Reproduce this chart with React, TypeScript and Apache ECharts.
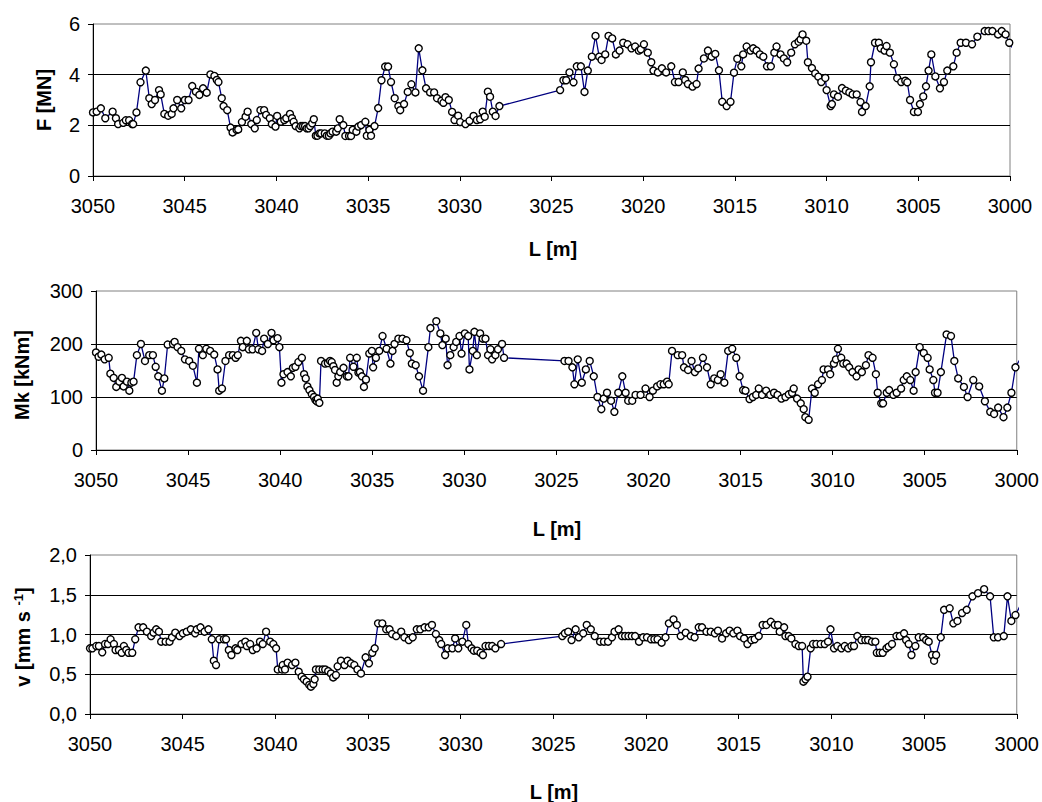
import React, { useEffect, useRef } from "react";
import * as echarts from "echarts";

const forceMN: [number, number][] = [
  [3050.0, 2.51], [3049.8, 2.54], [3049.57, 2.67], [3049.33, 2.28], [3048.93, 2.54], [3048.75, 2.28], [3048.63, 2.05], [3048.35, 2.1], [3048.21, 2.2], [3048.03, 2.2],
  [3047.87, 2.05], [3047.81, 2.05], [3047.63, 2.51], [3047.41, 3.7], [3047.12, 4.16], [3046.93, 3.07], [3046.8, 2.84], [3046.62, 3.0], [3046.4, 3.39], [3046.31, 3.22],
  [3046.11, 2.45], [3045.9, 2.38], [3045.71, 2.45], [3045.61, 2.67], [3045.41, 3.0], [3045.19, 2.67], [3044.99, 3.0], [3044.79, 3.0], [3044.59, 3.55], [3044.39, 3.33],
  [3044.2, 3.2], [3044.0, 3.46], [3043.8, 3.29], [3043.6, 4.01], [3043.38, 3.95], [3043.25, 3.79], [3043.16, 3.71], [3042.98, 3.07], [3042.88, 2.76], [3042.68, 2.6],
  [3042.5, 1.91], [3042.39, 1.72], [3042.17, 1.82], [3042.08, 1.84], [3041.88, 2.13], [3041.68, 2.34], [3041.57, 2.54], [3041.37, 2.05], [3041.18, 1.88], [3041.07, 2.21],
  [3040.87, 2.6], [3040.67, 2.6], [3040.56, 2.41], [3040.36, 2.28], [3040.25, 2.05], [3040.05, 1.95], [3039.96, 2.37], [3039.76, 2.14], [3039.57, 2.21], [3039.46, 2.28],
  [3039.26, 2.45], [3039.15, 2.28], [3039.06, 2.14], [3038.95, 1.97], [3038.75, 1.88], [3038.66, 1.97], [3038.55, 1.97], [3038.44, 1.97], [3038.35, 1.88], [3038.25, 1.88],
  [3038.16, 1.97], [3038.05, 2.08], [3037.96, 2.24], [3037.85, 1.59], [3037.76, 1.59], [3037.65, 1.68], [3037.56, 1.68], [3037.36, 1.68], [3037.25, 1.59], [3037.14, 1.59],
  [3037.05, 1.68], [3036.94, 1.75], [3036.74, 1.75], [3036.65, 1.88], [3036.55, 2.24], [3036.35, 2.01], [3036.24, 1.58], [3036.04, 1.58], [3035.93, 1.58], [3035.84, 1.82],
  [3035.64, 1.75], [3035.53, 1.95],
  [3035.38, 2.01], [3035.15, 2.14], [3035.07, 1.59], [3034.93, 1.82], [3034.84, 1.59], [3034.65, 1.97], [3034.45, 2.68], [3034.27, 3.78], [3034.07, 4.32], [3033.91, 4.32],
  [3033.75, 3.71], [3033.55, 3.07], [3033.35, 2.76], [3033.25, 2.6], [3033.04, 2.84], [3032.84, 3.32], [3032.64, 3.62], [3032.42, 3.3], [3032.24, 5.04], [3032.04, 4.17],
  [3031.84, 3.46], [3031.62, 3.3], [3031.4, 3.3], [3031.24, 3.07], [3031.0, 2.97], [3030.89, 2.89], [3030.78, 3.11], [3030.6, 3.0], [3030.42, 2.53], [3030.29, 2.21],
  [3030.09, 2.38], [3029.98, 2.13], [3029.69, 2.05], [3029.47, 2.18], [3029.25, 2.37], [3029.07, 2.21], [3028.89, 2.24], [3028.75, 2.54], [3028.64, 2.34], [3028.47, 3.33],
  [3028.35, 3.13], [3028.2, 2.54], [3028.05, 2.37], [3027.84, 2.76],
  [3024.53, 3.39], [3024.35, 3.78], [3024.2, 3.78], [3024.02, 4.09], [3023.8, 3.7], [3023.62, 4.33], [3023.4, 4.33], [3023.2, 3.32], [3023.02, 4.16], [3022.8, 4.71],
  [3022.6, 5.53], [3022.4, 4.71], [3022.27, 4.58], [3022.07, 4.8], [3021.89, 5.53], [3021.69, 5.43], [3021.49, 4.8], [3021.29, 4.95], [3021.09, 5.26], [3020.85, 5.2],
  [3020.64, 5.04], [3020.44, 5.11], [3020.24, 4.95], [3020.13, 5.0], [3019.96, 5.2], [3019.75, 4.87], [3019.56, 4.49], [3019.44, 4.16], [3019.2, 4.09], [3018.98, 4.25],
  [3018.75, 4.09], [3018.47, 4.33], [3018.27, 3.71], [3018.07, 3.71], [3017.84, 4.09], [3017.71, 3.79], [3017.56, 3.63], [3017.31, 3.53], [3017.09, 3.63], [3016.98, 4.24],
  [3016.69, 4.64], [3016.47, 4.95], [3016.27, 4.71], [3016.07, 4.82], [3015.87, 4.17], [3015.69, 2.93], [3015.45, 2.76], [3015.24, 2.93], [3015.05, 4.08], [3014.87, 4.63],
  [3014.65, 4.33], [3014.55, 4.8], [3014.36, 5.11], [3014.15, 4.95], [3014.0, 5.04], [3013.82, 4.95], [3013.64, 4.8], [3013.45, 4.71], [3013.25, 4.33], [3013.04, 4.33],
  [3012.85, 4.87], [3012.73, 5.11], [3012.51, 4.8], [3012.33, 4.64], [3012.15, 4.49], [3011.93, 4.87], [3011.73, 5.2], [3011.53, 5.3], [3011.42, 5.39], [3011.31, 5.59],
  [3011.11, 5.34], [3011.02, 4.49], [3010.8, 4.26], [3010.62, 4.05], [3010.45, 3.92], [3010.29, 3.71], [3010.07, 3.87], [3010.0, 3.39], [3009.78, 2.76], [3009.71, 2.84],
  [3009.6, 3.22], [3009.38, 3.13], [3009.16, 3.47], [3008.95, 3.37], [3008.76, 3.3], [3008.58, 3.22], [3008.36, 3.22], [3008.15, 2.92], [3008.07, 2.53], [3007.87, 2.76],
  [3007.65, 3.54], [3007.58, 4.49], [3007.36, 5.26], [3007.15, 5.26], [3007.05, 5.04], [3006.84, 4.95], [3006.73, 5.13], [3006.55, 4.87], [3006.33, 4.41], [3006.15, 3.86],
  [3005.93, 3.71], [3005.71, 3.76], [3005.6, 3.7], [3005.45, 3.0], [3005.24, 2.53], [3005.02, 2.53], [3004.91, 2.84], [3004.73, 3.14], [3004.58, 3.54], [3004.44, 4.16],
  [3004.29, 4.8], [3004.07, 3.93], [3003.82, 3.46], [3003.6, 3.71], [3003.42, 4.16], [3003.09, 4.33], [3002.91, 4.87], [3002.69, 5.26], [3002.4, 5.26], [3002.07, 5.2],
  [3001.78, 5.5], [3001.38, 5.72], [3001.18, 5.72], [3000.96, 5.72], [3000.65, 5.59], [3000.45, 5.72], [3000.24, 5.59], [3000.04, 5.26], [2999.78, 4.97],
];

const momentKNm: [number, number][] = [
  [3050.0, 184], [3049.86, 176], [3049.71, 180], [3049.53, 171], [3049.31, 174], [3049.22, 144], [3049.04, 136], [3048.9, 119], [3048.73, 129], [3048.59, 136],
  [3048.5, 120], [3048.32, 129], [3048.19, 112], [3048.08, 127], [3047.96, 129], [3047.78, 179], [3047.56, 200], [3047.34, 168], [3047.11, 179], [3046.91, 179],
  [3046.76, 157], [3046.62, 139], [3046.42, 112], [3046.29, 135], [3046.11, 199], [3045.82, 200], [3045.73, 204], [3045.57, 194], [3045.37, 187], [3045.17, 171],
  [3044.94, 168], [3044.74, 159], [3044.52, 127], [3044.41, 191], [3044.2, 179], [3044.01, 191], [3043.8, 187], [3043.58, 180], [3043.4, 152], [3043.31, 112],
  [3043.16, 116], [3042.97, 168], [3042.77, 179], [3042.57, 179], [3042.42, 174], [3042.3, 179], [3042.13, 206], [3042.03, 194], [3041.81, 206], [3041.7, 190],
  [3041.5, 190], [3041.3, 221], [3041.18, 190], [3040.98, 187], [3040.87, 210], [3040.67, 200], [3040.47, 221], [3040.36, 207], [3040.14, 211], [3040.04, 194],
  [3039.93, 127], [3039.82, 143], [3039.6, 147], [3039.42, 139], [3039.31, 155], [3039.17, 157], [3039.01, 166], [3038.82, 174], [3038.7, 143], [3038.61, 135],
  [3038.52, 120], [3038.41, 113], [3038.28, 105], [3038.16, 100], [3038.08, 94], [3038.01, 92], [3037.96, 97], [3037.87, 89], [3037.78, 168], [3037.56, 163],
  [3037.41, 164], [3037.29, 168], [3037.2, 166], [3037.11, 158], [3037.02, 151], [3036.93, 127], [3036.84, 139], [3036.74, 147], [3036.56, 155], [3036.38, 139],
  [3036.29, 139], [3036.2, 174], [3036.02, 157], [3035.84, 174], [3035.75, 146],
  [3035.67, 147], [3035.56, 139], [3035.45, 119], [3035.34, 133], [3035.16, 182], [3035.02, 187], [3034.95, 156], [3034.8, 174], [3034.62, 187], [3034.44, 215],
  [3034.22, 191], [3034.01, 163], [3033.9, 187], [3033.79, 200], [3033.58, 210], [3033.36, 210], [3033.14, 207], [3032.96, 183], [3032.85, 163], [3032.64, 160],
  [3032.46, 139], [3032.24, 112], [3031.95, 194], [3031.84, 230], [3031.52, 243], [3031.3, 220], [3031.19, 198], [3031.01, 210], [3030.91, 160], [3030.76, 179],
  [3030.58, 194], [3030.44, 204], [3030.26, 215], [3030.15, 182], [3029.97, 220], [3029.79, 215], [3029.72, 152], [3029.54, 187], [3029.45, 223], [3029.32, 179],
  [3029.14, 220], [3029.0, 210], [3028.85, 210], [3028.71, 179], [3028.58, 190], [3028.49, 171], [3028.31, 179], [3028.17, 190], [3027.95, 200], [3027.84, 174],
  [3024.56, 168], [3024.34, 168], [3024.13, 156], [3024.02, 124], [3023.84, 171], [3023.62, 127], [3023.4, 152], [3023.19, 168], [3022.97, 139], [3022.77, 100],
  [3022.56, 77], [3022.43, 97], [3022.25, 108], [3022.03, 93], [3021.85, 72], [3021.64, 108], [3021.42, 139], [3021.24, 108], [3021.1, 93], [3020.88, 93],
  [3020.7, 104], [3020.43, 104], [3020.16, 116], [3019.94, 100], [3019.76, 112], [3019.53, 120], [3019.35, 124], [3019.17, 124], [3018.99, 129], [3018.9, 124],
  [3018.72, 187], [3018.41, 179], [3018.17, 179], [3018.07, 156], [3017.85, 151], [3017.66, 168], [3017.48, 147], [3017.3, 154],
  [3017.04, 174], [3016.82, 156], [3016.62, 124], [3016.43, 135], [3016.23, 132], [3016.08, 143], [3015.88, 127], [3015.67, 187], [3015.45, 191], [3015.23, 174],
  [3015.05, 139], [3014.86, 113], [3014.73, 112], [3014.51, 96], [3014.33, 100], [3014.15, 104], [3014.01, 116], [3013.83, 104], [3013.61, 112], [3013.39, 104],
  [3013.18, 108], [3012.99, 104], [3012.78, 97], [3012.56, 100], [3012.38, 105], [3012.2, 108], [3012.11, 116], [3011.93, 97], [3011.73, 88], [3011.57, 77],
  [3011.48, 62], [3011.3, 57], [3011.12, 116], [3010.97, 108], [3010.79, 124], [3010.58, 132], [3010.49, 152], [3010.25, 152], [3010.13, 143], [3009.93, 163],
  [3009.82, 171], [3009.71, 191], [3009.53, 174], [3009.42, 163], [3009.24, 163], [3009.1, 156], [3008.92, 147], [3008.7, 139], [3008.59, 152], [3008.41, 147],
  [3008.19, 160], [3008.05, 179], [3007.83, 174], [3007.65, 143], [3007.55, 108], [3007.36, 88], [3007.26, 88], [3007.06, 108], [3006.93, 113], [3006.7, 104],
  [3006.52, 108], [3006.28, 116], [3006.14, 132], [3005.97, 139], [3005.78, 132], [3005.6, 112], [3005.49, 147], [3005.27, 194], [3005.05, 183], [3004.84, 174],
  [3004.73, 152], [3004.53, 132], [3004.44, 108], [3004.3, 108], [3004.12, 147], [3003.81, 218], [3003.57, 215], [3003.39, 168], [3003.18, 135], [3002.87, 119],
  [3002.67, 100], [3002.36, 132], [3002.04, 120], [3001.73, 92], [3001.44, 72], [3001.23, 68], [3001.01, 80], [3000.72, 62], [3000.51, 80], [3000.29, 108],
  [3000.07, 156], [2999.78, 174],
];

const speedMms: [number, number][] = [
  [3050.0, 0.826], [3049.87, 0.826], [3049.66, 0.855], [3049.52, 0.855], [3049.34, 0.776], [3049.19, 0.88], [3049.03, 0.88], [3048.89, 0.94], [3048.71, 0.88], [3048.62, 0.805],
  [3048.44, 0.805], [3048.29, 0.77], [3048.17, 0.855], [3048.04, 0.805], [3047.92, 0.77], [3047.72, 0.77], [3047.56, 0.94], [3047.38, 1.09], [3047.13, 1.09], [3046.93, 1.036],
  [3046.7, 0.98], [3046.57, 1.023], [3046.43, 1.065], [3046.28, 1.036], [3046.16, 0.91], [3045.92, 0.91], [3045.71, 0.91], [3045.58, 0.964], [3045.4, 1.023], [3045.17, 0.98],
  [3044.99, 1.015], [3044.78, 1.036], [3044.56, 1.065], [3044.33, 1.015], [3044.24, 1.065], [3044.04, 1.09], [3043.82, 1.036], [3043.61, 1.065], [3043.43, 0.94], [3043.32, 0.67],
  [3043.2, 0.616], [3043.02, 0.94], [3042.78, 0.94], [3042.66, 0.94], [3042.51, 0.805], [3042.37, 0.742], [3042.15, 0.826], [3042.05, 0.805], [3041.83, 0.88], [3041.62, 0.91],
  [3041.54, 0.855], [3041.36, 0.88], [3041.22, 0.805], [3041.01, 0.826], [3040.83, 0.91], [3040.68, 0.88], [3040.5, 1.036], [3040.28, 0.91], [3040.11, 0.88], [3039.96, 0.826],
  [3039.87, 0.56], [3039.64, 0.56], [3039.6, 0.616], [3039.48, 0.56], [3039.34, 0.646], [3039.1, 0.616], [3038.92, 0.646], [3038.74, 0.532], [3038.58, 0.47], [3038.46, 0.436],
  [3038.31, 0.407], [3038.17, 0.365], [3038.08, 0.344], [3037.95, 0.377], [3037.88, 0.436], [3037.81, 0.56], [3037.63, 0.56], [3037.45, 0.56], [3037.31, 0.56], [3037.15, 0.54],
  [3037.0, 0.51], [3036.88, 0.46], [3036.73, 0.49], [3036.64, 0.6], [3036.46, 0.67], [3036.27, 0.616], [3036.1, 0.67], [3035.92, 0.637], [3035.74, 0.616], [3035.57, 0.56],
  [3035.38, 0.51], [3035.13, 0.713], [3034.95, 0.637], [3034.77, 0.77], [3034.64, 0.826], [3034.46, 1.14], [3034.23, 1.14], [3034.02, 1.065], [3033.84, 1.065], [3033.7, 1.006],
  [3033.48, 0.98], [3033.21, 1.036], [3033.04, 0.964], [3032.8, 0.93], [3032.59, 0.964], [3032.37, 1.065], [3032.18, 1.065], [3031.95, 1.09], [3031.73, 1.09], [3031.55, 1.12],
  [3031.34, 1.006], [3031.16, 0.93], [3031.05, 0.88], [3030.84, 0.742], [3030.7, 0.826], [3030.45, 0.826], [3030.3, 0.95], [3030.13, 0.826], [3029.91, 0.91], [3029.7, 1.12],
  [3029.59, 0.88], [3029.41, 0.826], [3029.29, 0.797], [3029.11, 0.797], [3028.93, 0.77], [3028.8, 0.742], [3028.66, 0.855], [3028.48, 0.855], [3028.3, 0.855], [3028.13, 0.826],
  [3027.82, 0.88],
  [3024.52, 0.98], [3024.38, 1.015], [3024.2, 1.036], [3024.02, 0.93], [3023.8, 1.065], [3023.63, 0.964], [3023.39, 1.015], [3023.2, 1.12], [3022.98, 1.065], [3022.77, 0.98],
  [3022.48, 0.91], [3022.27, 0.91], [3022.05, 0.91], [3021.84, 0.964], [3021.7, 1.036], [3021.48, 1.065], [3021.3, 0.98], [3021.13, 0.98], [3020.95, 0.98], [3020.77, 0.98],
  [3020.59, 0.98], [3020.38, 0.91], [3020.16, 0.964], [3019.95, 0.964], [3019.73, 0.94], [3019.55, 0.94], [3019.38, 0.94], [3019.16, 0.897], [3018.95, 0.964], [3018.77, 1.14],
  [3018.52, 1.19], [3018.34, 1.12], [3018.13, 0.98], [3017.86, 1.023], [3017.59, 0.98], [3017.38, 0.964], [3017.16, 1.09],
  [3016.98, 1.09], [3016.74, 1.036], [3016.51, 1.036], [3016.29, 1.015], [3016.12, 1.048], [3015.9, 0.95], [3015.68, 1.015], [3015.49, 1.048], [3015.29, 1.015], [3015.07, 1.048],
  [3014.93, 0.98], [3014.71, 0.95], [3014.53, 0.88], [3014.32, 0.93], [3014.14, 0.94], [3013.92, 0.98], [3013.71, 1.12], [3013.51, 1.12], [3013.27, 1.16], [3013.06, 1.12],
  [3012.88, 1.12], [3012.79, 1.036], [3012.55, 1.09], [3012.48, 0.98], [3012.3, 0.98], [3012.16, 0.95], [3011.94, 0.88], [3011.76, 0.855], [3011.58, 0.855], [3011.51, 0.407],
  [3011.4, 0.436], [3011.29, 0.47], [3011.12, 0.826], [3010.99, 0.88], [3010.81, 0.88], [3010.58, 0.88], [3010.36, 0.88], [3010.18, 0.91], [3010.05, 1.065], [3009.86, 0.826],
  [3009.68, 0.855], [3009.46, 0.826], [3009.28, 0.855], [3009.1, 0.826], [3008.92, 0.855], [3008.78, 0.855], [3008.6, 0.98], [3008.38, 0.93], [3008.17, 0.93], [3008.02, 0.93],
  [3007.81, 0.91], [3007.63, 0.91], [3007.55, 0.77], [3007.39, 0.77], [3007.23, 0.77], [3007.03, 0.826], [3006.91, 0.847], [3006.73, 0.88], [3006.49, 0.98], [3006.31, 0.98],
  [3006.08, 1.015], [3005.97, 0.93], [3005.83, 0.88], [3005.68, 0.742], [3005.47, 0.855], [3005.29, 0.964], [3005.05, 0.964], [3004.89, 0.93], [3004.75, 0.91], [3004.57, 0.742],
  [3004.46, 0.67], [3004.35, 0.742], [3004.1, 0.964], [3003.92, 1.31], [3003.62, 1.33], [3003.42, 1.14], [3003.2, 1.17], [3002.95, 1.27], [3002.7, 1.31], [3002.39, 1.48],
  [3002.09, 1.52], [3001.76, 1.57], [3001.44, 1.48], [3001.24, 0.964], [3001.01, 0.964], [3000.7, 0.98], [3000.5, 1.48], [3000.29, 1.17], [3000.07, 1.245], [2999.78, 1.38],
];

const FONT = "'Liberation Sans', Arial, sans-serif";

const panels = [
  { data: forceMN, min: 0, max: 6, interval: 2, grid: { left: 93, top: 24, width: 917, height: 152 }, fmt: (v: number) => String(v) },
  { data: momentKNm, min: 0, max: 300, interval: 100, grid: { left: 96, top: 291, width: 923, height: 159 }, fmt: (v: number) => String(v) },
  { data: speedMms, min: 0, max: 2, interval: 0.5, grid: { left: 90, top: 555, width: 928, height: 159 }, fmt: (v: number) => v.toFixed(1).replace(".", ",") },
];

export default function App() {
  const ref = useRef<HTMLDivElement>(null);
  useEffect(() => {
    if (!ref.current) return;
    const chart = echarts.init(ref.current, null, { renderer: "svg" });
    const titleStyle = { fontFamily: FONT, fontSize: 20, fontWeight: "bold", fill: "#000", textAlign: "center", textVerticalAlign: "middle" };
    chart.setOption({
      animation: false,
      backgroundColor: "#fff",
      textStyle: { fontFamily: FONT },
      grid: panels.map((p) => ({ ...p.grid, show: true, borderColor: "#808080", borderWidth: 1, backgroundColor: "#fff", containLabel: false })),
      xAxis: panels.map((_, i) => ({
        gridIndex: i,
        type: "value",
        min: 3000,
        max: 3050,
        interval: 5,
        inverse: true,
        axisLine: { show: true, onZero: false, lineStyle: { color: "#000", width: 1 } },
        axisTick: { show: true, length: 5, lineStyle: { color: "#000" } },
        axisLabel: { color: "#000", fontSize: 20, fontFamily: FONT, margin: 20, formatter: (v: number) => String(v) },
        splitLine: { show: false },
      })),
      yAxis: panels.map((p, i) => ({
        gridIndex: i,
        type: "value",
        min: p.min,
        max: p.max,
        interval: p.interval,
        axisLine: { show: true, onZero: false, lineStyle: { color: "#000", width: 1 } },
        axisTick: { show: true, length: 5, lineStyle: { color: "#000" } },
        axisLabel: { color: "#000", fontSize: 20, fontFamily: FONT, margin: 13, formatter: p.fmt },
        splitLine: { show: true, showMinLine: false, showMaxLine: false, lineStyle: { color: "#000", width: 1 } },
      })),
      series: panels.map((p, i) => ({
        type: "line",
        xAxisIndex: i,
        yAxisIndex: i,
        data: p.data,
        clip: true,
        symbol: "circle",
        symbolSize: 7,
        showAllSymbol: true,
        lineStyle: { color: "#000080", width: 1.3 },
        itemStyle: { color: "#fff", borderColor: "#000", borderWidth: 1.4 },
        emphasis: { disabled: true },
      })),
      graphic: [
        { type: "text", x: 44, y: 100, rotation: Math.PI / 2, style: { ...titleStyle, text: "F [MN]" } },
        { type: "text", x: 22, y: 375, rotation: Math.PI / 2, style: { ...titleStyle, text: "Mk [kNm]" } },
        {
          type: "text",
          x: 23,
          y: 637,
          rotation: Math.PI / 2,
          style: {
            ...titleStyle,
            text: "{a|v [mm s }{b|-1}{a|]}",
            rich: {
              a: { fontFamily: FONT, fontSize: 20, fontWeight: "bold", fill: "#000", lineHeight: 22 },
              b: { fontFamily: FONT, fontSize: 13, fontWeight: "bold", fill: "#000", verticalAlign: "top", lineHeight: 22 },
            },
          },
        },
        { type: "text", x: 553, y: 249, style: { ...titleStyle, text: "L [m]" } },
        { type: "text", x: 557, y: 529, style: { ...titleStyle, text: "L [m]" } },
        { type: "text", x: 554, y: 792, style: { ...titleStyle, text: "L [m]" } },
      ],
    });
    return () => chart.dispose();
  }, []);
  return (
    <div
      ref={ref}
      style={{ position: "absolute", left: 0, top: 0, width: 1042, height: 802, background: "#fff" }}
    />
  );
}
